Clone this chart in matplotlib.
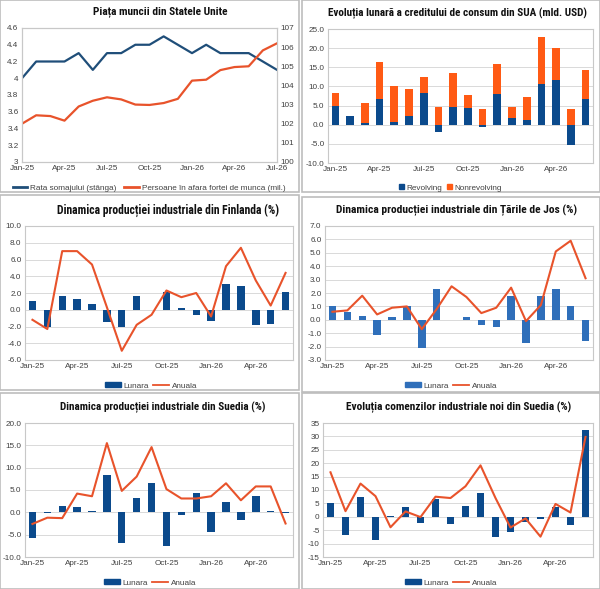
import matplotlib
matplotlib.use("Agg")
import matplotlib.pyplot as plt
from matplotlib.patches import Rectangle, Patch
from matplotlib.lines import Line2D
import numpy as np

W, H = 600, 589

# ---------------- data ----------------
months_19 = ["Jan-25", "Feb-25", "Mar-25", "Apr-25", "May-25", "Jun-25", "Jul-25", "Aug-25",
             "Sep-25", "Oct-25", "Nov-25", "Dec-25", "Jan-26", "Feb-26", "Mar-26", "Apr-26",
             "May-26", "Jun-26", "Jul-26"]
months_18 = months_19[:18]

unemployment = [4.0, 4.2, 4.2, 4.2, 4.3, 4.1, 4.3, 4.3, 4.4, 4.4, 4.5, 4.4, 4.3, 4.4, 4.3, 4.3, 4.3, 4.2, 4.1]
outside_lf = [102.0, 102.44, 102.4, 102.16, 102.9, 103.2, 103.38, 103.27, 103.0, 102.98, 103.08, 103.3,
              104.25, 104.3, 104.8, 104.96, 105.0, 105.83, 106.2]

revolving = [5.0, 2.3, 0.5, 6.6, 0.8, 2.2, 8.4, -1.8, 4.5, 4.3, -0.5, 8.0, 1.8, 1.2, 10.7, 11.7, -5.2, 6.7]
nonrevolving = [3.4, -0.2, 5.3, 9.7, 9.2, 7.0, 4.0, 4.6, 9.0, 3.5, 4.1, 7.8, 2.7, 6.1, 12.1, 8.3, 4.2, 7.5]

fin_monthly = [1.1, -2.1, 1.6, 1.3, 0.7, -1.5, -2.0, 1.6, -0.05, 2.1, 0.2, -0.6, -1.3, 3.1, 2.8, -1.8, -1.7, 2.1]
fin_annual = [-1.2, -2.3, 7.0, 7.0, 5.4, 0.3, -4.9, -1.8, -0.6, 2.3, 1.5, 2.0, -0.8, 5.2, 7.4, 3.5, 0.5, 4.4]

nl_monthly = [1.0, 0.6, 0.3, -1.1, 0.2, 1.0, -2.1, 2.3, 0.0, 0.2, -0.4, -0.5, 1.8, -1.7, 1.8, 2.3, 1.0, -1.6]
nl_annual = [0.6, 0.7, 1.8, 0.4, 0.9, 1.0, -0.7, 0.8, 2.5, 1.7, 0.5, 0.9, 2.4, -0.1, 1.1, 5.1, 5.9, 3.1]

se_monthly = [-5.8, -0.2, 1.4, 1.2, 0.2, 8.4, -6.9, 3.1, 6.5, -7.5, -0.5, 4.4, -4.5, 2.3, -1.8, 3.7, 0.3, -0.2]
se_annual = [-2.6, -1.2, -1.3, 4.2, 3.6, 15.5, 4.8, 8.0, 14.6, 5.2, 3.1, 3.1, 3.6, 6.5, 2.7, 5.8, 5.8, -2.5]

ord_monthly = [5.0, -6.8, 7.3, -8.8, 0.3, 3.6, -2.2, 6.5, -2.8, 4.0, 8.9, -7.5, -5.5, -1.8, -0.8, 3.8, -3.1, 32.3]
ord_annual = [16.6, 2.1, 12.4, 7.7, -3.9, 2.0, -0.1, 7.5, 7.0, 11.4, 19.2, 7.0, -4.0, -0.6, -7.4, 4.8, 1.6, 29.8]

titles = ["Piața muncii din Statele Unite",
          "Evoluția lunară a creditului de consum din SUA (mld. USD)",
          "Dinamica producției industriale din Finlanda (%)",
          "Dinamica producției industriale din Țările de Jos (%)",
          "Dinamica producției industriale din Suedia (%)",
          "Evoluția comenzilor industriale noi din Suedia (%)"]

# ---------------- style ----------------
NAVY = "#0b4a8c"
BLUE_NL = "#2f6fba"
ORANGE = "#ff5a14"
LINE_RED = "#e8532b"
LINE_BLUE = "#1f4e79"
GRID = "#d9d9d9"
TXT = "#404040"
TFS = 5.9
plt.rcParams["font.family"] = ["Liberation Sans", "DejaVu Sans"]
TITLE_FAMILY = ["Liberation Sans Narrow", "Roboto Condensed", "Open Sans Condensed", "DejaVu Sans"]

fig = plt.figure(figsize=(W / 100, H / 100), dpi=100)
fig.patch.set_facecolor("white")
renderer = fig.canvas.get_renderer()


def fbox(x0, y0, x1, y1):
    return [x0 / W, 1 - y1 / H, (x1 - x0) / W, (y1 - y0) / H]


def panel_border(x0, y0, x1, y1):
    fig.add_artist(Rectangle((x0 / W, 1 - y1 / H), (x1 - x0) / W, (y1 - y0) / H,
                             transform=fig.transFigure, fill=False, edgecolor="#bdbdbd", lw=1.2))


def style_ax(ax, grid=True):
    for s in ax.spines.values():
        s.set_color("#c8c8c8")
        s.set_linewidth(0.8)
    ax.tick_params(labelsize=TFS, colors=TXT, length=0, pad=2.5)
    if grid:
        ax.yaxis.grid(True, color=GRID, lw=0.7)
        ax.set_axisbelow(True)


def ptitle(cx, y, text, target_w):
    t = fig.text(cx / W, 1 - y / H, text, ha="center", va="center", color="#111111",
                 family=TITLE_FAMILY, weight="bold", stretch="condensed", size=10)
    w = t.get_window_extent(renderer).width
    t.set_size(10 * target_w / w)
    return t


panels = [(0, 0, 299, 192), (302, 0, 600, 192), (0, 195, 299, 390), (302, 197, 600, 392),
          (0, 393, 299, 589), (302, 393, 600, 589)]
for p in panels:
    panel_border(*p)

tick_pos = [0, 3, 6, 9, 12, 15]
tick_lab = [months_19[i] for i in tick_pos]

# ---------- panel 1 ----------
ax1 = fig.add_axes(fbox(22, 28, 277, 162))
x19 = np.arange(len(months_19))
ax1.plot(x19, unemployment, color=LINE_BLUE, lw=1.6)
ax1.set_xlim(0, 18)
ax1.set_ylim(3, 4.6)
yt = np.round(np.arange(3, 4.61, 0.2), 1)
ax1.set_yticks(yt)
ax1.set_yticklabels([f"{v:g}" for v in yt])
ax1.set_xticks([0, 3, 6, 9, 12, 15, 18])
ax1.set_xticklabels([months_19[i] for i in [0, 3, 6, 9, 12, 15, 18]])
style_ax(ax1, grid=False)
ax1b = ax1.twinx()
ax1b.plot(x19, outside_lf, color=LINE_RED, lw=1.6)
ax1b.set_ylim(100, 107)
ax1b.set_yticks(range(100, 108))
style_ax(ax1b, grid=False)
ptitle(160, 12, titles[0], 135)
fig.legend([Line2D([], [], color=LINE_BLUE, lw=2), Line2D([], [], color=LINE_RED, lw=2)],
           ["Rata somajului (stânga)", "Persoane în afara fortei de munca (mil.)"],
           loc="center", bbox_to_anchor=(149 / W, 1 - 188 / H), ncol=2, frameon=False,
           fontsize=TFS, handlelength=1.8, columnspacing=1.0, handletextpad=0.3, labelcolor=TXT)

# ---------- panel 2 ----------
ax2 = fig.add_axes(fbox(328, 29, 593, 163))
x18 = np.arange(len(months_18))
rev = np.array(revolving)
nrev = np.array(nonrevolving)
ax2.bar(x18, rev, width=0.52, color=NAVY, zorder=2)
bottom = np.where(nrev >= 0, np.maximum(rev, 0), np.minimum(rev, 0))
ax2.bar(x18, nrev, width=0.52, bottom=bottom, color=ORANGE, zorder=2)
ax2.set_xlim(-0.5, 17.5)
ax2.set_ylim(-10, 25)
ax2.set_yticks(np.arange(-10, 25.1, 5))
ax2.set_yticklabels([f"{v:.1f}" for v in np.arange(-10, 25.1, 5)])
ax2.set_xticks(tick_pos)
ax2.set_xticklabels(tick_lab)
style_ax(ax2)
ptitle(457, 13, titles[1], 260)
fig.legend([Patch(color=NAVY), Patch(color=ORANGE)], ["Revolving", "Nonrevolving"],
           loc="center", bbox_to_anchor=(450 / W, 1 - 188 / H), ncol=2, frameon=False,
           fontsize=TFS, handlelength=0.6, handleheight=0.6, columnspacing=0.6,
           handletextpad=0.3, labelcolor=TXT)


def bar_line_panel(box, monthly, annual, ylim, step, fmt, bar_color, title, tcx, ty, tw, lcx, ly):
    ax = fig.add_axes(fbox(*box))
    ax.bar(x18, monthly, width=0.5, color=bar_color, zorder=2)
    ax.plot(x18, annual, color=LINE_RED, lw=1.5, zorder=3)
    ax.set_xlim(-0.5, 17.5)
    ax.set_ylim(*ylim)
    ticks = np.arange(ylim[0], ylim[1] + step / 2, step)
    ax.set_yticks(ticks)
    ax.set_yticklabels([fmt.format(v) for v in ticks])
    ax.set_xticks(tick_pos)
    ax.set_xticklabels(tick_lab)
    style_ax(ax)
    ptitle(tcx, ty, title, tw)
    fig.legend([Patch(color=bar_color), Line2D([], [], color=LINE_RED, lw=1.3)], ["Lunara", "Anuala"],
               loc="center", bbox_to_anchor=(lcx / W, 1 - ly / H), ncol=2, frameon=False,
               fontsize=TFS, handlelength=2.0, handleheight=0.55, columnspacing=0.5,
               handletextpad=0.3, labelcolor=TXT)
    return ax


bar_line_panel((25, 226, 293, 360), fin_monthly, fin_annual, (-6, 10), 2, "{:.1f}", NAVY,
               titles[2], 168, 210, 223, 151, 386)
bar_line_panel((325, 226, 593, 360), nl_monthly, nl_annual, (-3, 7), 1, "{:.1f}", BLUE_NL,
               titles[3], 457, 210, 241, 451, 386)
bar_line_panel((25, 423, 293, 557), se_monthly, se_annual, (-10, 20), 5, "{:.1f}", NAVY,
               titles[4], 163, 407, 207, 150, 583)
bar_line_panel((323, 423, 593, 557), ord_monthly, ord_annual, (-15, 35), 5, "{:.0f}", NAVY,
               titles[5], 459, 407, 227, 451, 583)

fig.savefig("out.png", dpi=100, facecolor="white")
